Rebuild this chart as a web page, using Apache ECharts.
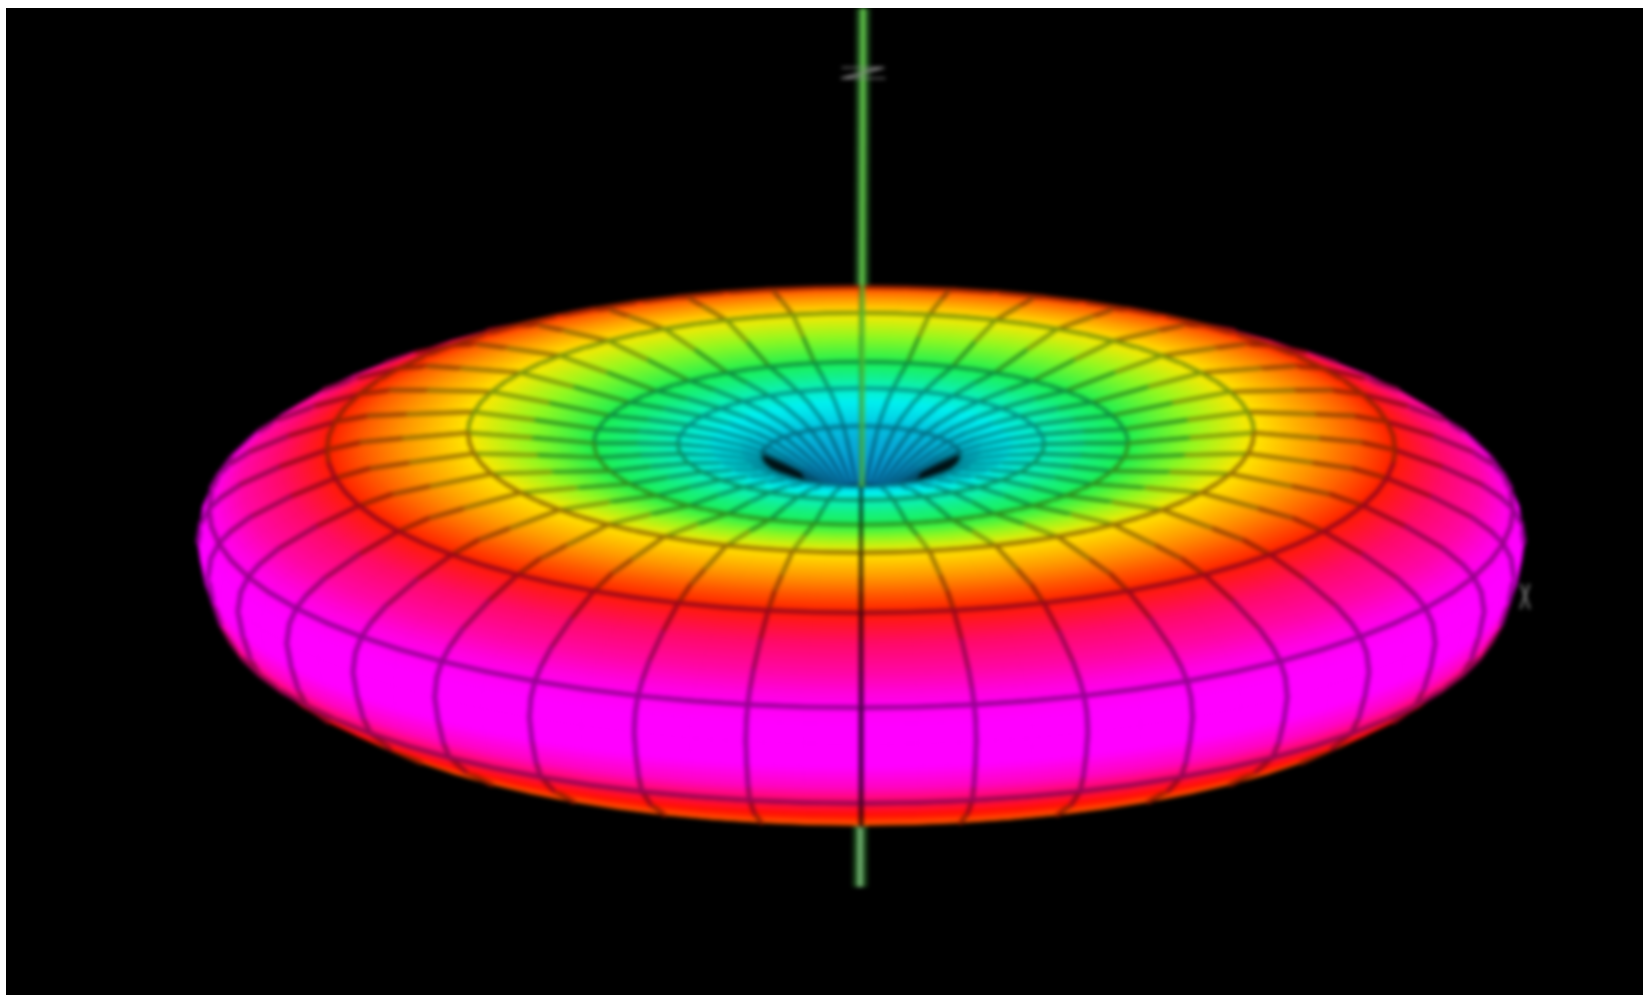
<!DOCTYPE html>
<html>
<head>
<meta charset="utf-8">
<style>
  html, body { margin: 0; height: 100%; background: #fff; overflow: hidden; }
  #frame { position: absolute; left: 6px; top: 8px; width: 1637px; height: 987px; background: #000; overflow: hidden; }
  #chart { width: 1637px; height: 987px; filter: blur(2px); }
</style>
</head>
<body>
<div id="frame"><div id="chart"></div></div>
<script src="https://cdn.jsdelivr.net/npm/echarts@6/dist/echarts.min.js"></script>
<script>
const profileRho = [0, 30, 60, 80, 100, 120, 150, 183, 225, 267, 330, 393, 460, 500, 534, 580, 620, 640, 652, 660, 663, 658, 650, 640, 615, 575, 520, 460, 400];
const profileZ = [10, 18, 36, 46, 55, 60, 65, 68, 69, 69, 75, 80, 74, 70, 62, 45, 26, 12, 0, -15, -35, -60, -85, -104, -125, -148, -165, -182, -200];
const profileGain = [0, 0.03, 0.07, 0.09, 0.12, 0.16, 0.2, 0.25, 0.32, 0.38, 0.5, 0.62, 0.69, 0.74, 0.79, 0.88, 0.93, 0.97, 0.99, 1, 1, 1, 0.95, 0.87, 0.8, 0.74, 0.69, 0.66, 0.64];
// profile points that carry a mesh ring
const ringLines = [4, 7, 9, 11, 14, 18, 23];
const ramp = ["#0a78c8", "#00f0f0", "#20f040", "#ffff00", "#ff1000", "#ff00ff"];

// z axis: height and sideways drift of its two ends and where the lip hides it
const axisZ = [526, 23, -397];
const axisDrift = [2, 1, -1];
const axisLabels = ["Z", "X"];
const labelX = [2, 664];
const labelY = [434, -91];
const labelWide = [3.4, 0.8];
const labelTall = [0.7, 1.5];

const sinTilt = 0.305;
const cosTilt = 0.952;
const facetDeg = 5;
const facets = 360 / facetDeg;
const frontMeridian = 18;

const project = (rho, z, j) => {
  const phi = (j * facetDeg * Math.PI) / 180;
  return [rho * Math.cos(phi), z * cosTilt - rho * Math.sin(phi) * sinTilt];
};

const depth = (i, j) => {
  const phi = ((j + 0.5) * facetDeg * Math.PI) / 180;
  const rho = (profileRho[i] + profileRho[i + 1]) / 2;
  const z = (profileZ[i] + profileZ[i + 1]) / 2;
  return rho * Math.sin(phi) * cosTilt + z * sinTilt;
};

const corners = (i, j) => [
  project(profileRho[i], profileZ[i], j),
  project(profileRho[i], profileZ[i], j + 1),
  project(profileRho[i + 1], profileZ[i + 1], j + 1),
  project(profileRho[i + 1], profileZ[i + 1], j),
];

const facesViewer = (pts) => {
  let area = 0;
  pts.forEach((p, k) => {
    const q = pts[(k + 1) % 4];
    area += p[0] * q[1] - q[0] * p[1];
  });
  return area > 0;
};

const shade = (color, k) => {
  const c = echarts.color.parse(color);
  return `rgb(${c[0] * k | 0},${c[1] * k | 0},${c[2] * k | 0})`;
};

// the inner wall is dimmer near the lip and goes dark at the two ends of the hole
const wallShade = (i, j) => {
  if (i > 3) return 1;
  const phi = ((j + 0.5) * facetDeg * Math.PI) / 180;
  const s = Math.sin(phi);
  if (s <= -0.3) return 1;
  if (s <= -0.05) return 0.85;
  return i >= 2 && Math.abs(Math.cos(phi)) > 0.88 ? 0.15 : 0.8;
};

const cells = [];
for (let i = 0; i < profileRho.length - 1; i++) {
  for (let j = 0; j < facets; j++) {
    if (facesViewer(corners(i, j))) cells.push([i, j, depth(i, j)]);
  }
}
cells.sort((a, b) => a[2] - b[2]);

const renderCell = (params, api) => {
  const i = api.value(0);
  const j = api.value(1);
  const pts = corners(i, j).map((p) => api.coord(p));
  const wall = wallShade(i, j);
  const inner = shade(echarts.color.lerp(profileGain[i], ramp), wall);
  const outer = shade(echarts.color.lerp(profileGain[i + 1], ramp), wall);
  const mid = echarts.color.lerp((profileGain[i] + profileGain[i + 1]) / 2, ramp);

  // colour runs straight across the ring chord so neighbouring facets line up
  const from = [(pts[0][0] + pts[1][0]) / 2, (pts[0][1] + pts[1][1]) / 2];
  const to = [(pts[2][0] + pts[3][0]) / 2, (pts[2][1] + pts[3][1]) / 2];
  const cx = pts[1][0] - pts[0][0];
  const cy = pts[1][1] - pts[0][1];
  const len = Math.hypot(cx, cy) || 1;
  const nx = -cy / len;
  const ny = cx / len;
  const d = (to[0] - from[0]) * nx + (to[1] - from[1]) * ny;
  const fill = {
    type: "linear",
    global: true,
    x: from[0],
    y: from[1],
    x2: from[0] + nx * d,
    y2: from[1] + ny * d,
    colorStops: [
      { offset: 0, color: inner },
      { offset: 1, color: outer },
    ],
  };
  const children = [
    {
      type: "polygon",
      shape: { points: pts },
      style: { fill: fill, stroke: fill, lineWidth: 1 },
    },
  ];
  const width = 3 + (1.5 * profileRho[i]) / 660;
  const edge = (a, b, k) => {
    children.push({
      type: "line",
      shape: { x1: a[0], y1: a[1], x2: b[0], y2: b[1] },
      style: { stroke: shade(mid, k * wall), lineWidth: width, lineCap: "round" },
    });
  };
  if (ringLines.includes(i)) edge(pts[0], pts[1], 0.6);
  if (ringLines.includes(i + 1)) edge(pts[3], pts[2], 0.6);
  if (j % 2 === 0) edge(pts[0], pts[3], j === frontMeridian ? 0.25 : 0.6);
  if ((j + 1) % 2 === 0) edge(pts[1], pts[2], j + 1 === frontMeridian ? 0.25 : 0.6);
  return { type: "group", children: children };
};

const axisLine = (from, to, style) => (params, api) => {
  const a = api.coord([axisDrift[from], axisZ[from] * cosTilt]);
  const b = api.coord([axisDrift[to], axisZ[to] * cosTilt]);
  return {
    type: "line",
    shape: { x1: a[0], y1: a[1], x2: b[0], y2: b[1] },
    style: style,
  };
};

const chart = echarts.init(document.getElementById("chart"));
chart.setOption({
  animation: false,
  backgroundColor: "#000",
  grid: { left: 0, right: 0, top: 0, bottom: 0 },
  xAxis: { type: "value", min: -855, max: 782, show: false },
  yAxis: { type: "value", min: -486, max: 501, show: false },
  series: [
    {
      type: "custom",
      silent: true,
      z: 1,
      data: [[0]],
      renderItem: axisLine(0, 2, { stroke: "#173f17", lineWidth: 15 }),
    },
    {
      type: "custom",
      silent: true,
      z: 2,
      data: [[0]],
      renderItem: axisLine(0, 2, { stroke: "#6aa86a", lineWidth: 6 }),
    },
    {
      type: "custom",
      silent: true,
      z: 3,
      progressive: 0,
      data: cells,
      renderItem: renderCell,
    },
    {
      type: "custom",
      silent: true,
      z: 4,
      data: [[0]],
      renderItem: axisLine(0, 1, { stroke: "rgba(80,190,50,0.75)", lineWidth: 5 }),
    },
    {
      type: "custom",
      silent: true,
      z: 5,
      data: axisLabels.map((t, k) => [labelX[k], labelY[k], t]),
      renderItem: (params, api) => {
        const k = params.dataIndex;
        const p = api.coord([api.value(0), api.value(1)]);
        return {
          type: "text",
          x: p[0],
          y: p[1],
          scaleX: labelWide[k],
          scaleY: labelTall[k],
          style: {
            text: axisLabels[k],
            fill: "#8a8a8a",
            font: "22px 'DejaVu Sans'",
            align: "center",
            verticalAlign: "middle",
          },
        };
      },
    },
  ],
});
</script>
</body>
</html>
